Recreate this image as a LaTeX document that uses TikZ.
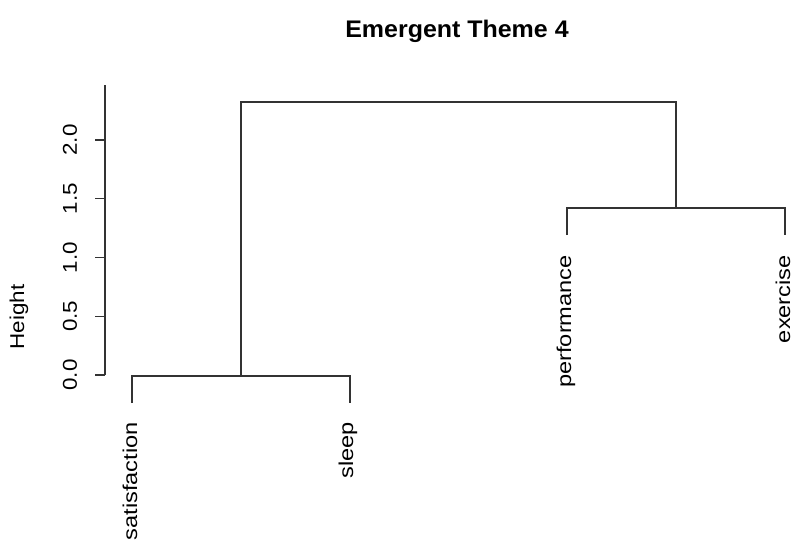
\documentclass[tikz,border=0pt]{standalone}
\usepackage{fontspec}
\setmainfont{Liberation Sans}
\newfontfamily\labelfont[FakeStretch=1.12]{Liberation Sans}
\newfontfamily\leaffont[FakeStretch=1.18]{Liberation Sans}
\newfontfamily\titlefont[FakeStretch=1.04]{Liberation Sans}
\begin{document}
\begin{tikzpicture}[x=1pt,y=-1pt,
  branch/.style={line width=1.2pt,draw=black!80},
  axisline/.style={line width=1.1pt,draw=black!80},
  leaflabel/.style={rotate=90,anchor=east,inner sep=0pt,font=\leaffont\fontsize{20}{24}\selectfont},
  ticklabel/.style={rotate=90,anchor=center,inner sep=0pt,font=\labelfont\fontsize{20}{24}\selectfont},
  titletext/.style={anchor=base,inner sep=0pt,font=\titlefont\bfseries\fontsize{24}{28}\selectfont}]
\useasboundingbox (0,0) rectangle (795,542);

% title
\node[titletext] (title) at (457,37) {Emergent Theme 4};

% height axis
\coordinate (axtop) at (105,85);
\coordinate (axbot) at (105,375);
\draw[axisline] (axtop) -- (axbot);
\foreach \i/\v/\y in {0/0.0/375,1/0.5/316.25,2/1.0/257.5,3/1.5/198.75,4/2.0/140}{
  \coordinate (tk\i) at (105,\y);
  \coordinate (tke\i) at (95,\y);
  \draw[axisline] (tk\i) -- (tke\i);
  \node[ticklabel] (tl\i) at (70,\y) {\v};
}
\node[ticklabel] (ylab) at (19,317) {Height};

% leaf ends
\coordinate (satis) at (132,403);
\coordinate (sleep) at (350,403);
\coordinate (perf) at (567,235);
\coordinate (exer) at (785,235);

% merge points
\coordinate (mleft) at (241,376);
\coordinate (mright) at (676,208);
\coordinate (mtop) at (458,102);

% branches
\draw[branch] (satis) |- (mleft) -| (sleep);
\draw[branch] (perf) |- (mright) -| (exer);
\draw[branch] (mleft) |- (mtop) -| (mright);

% leaf labels
\node[leaflabel] (lsatis) at (130,422) {satisfaction};
\node[leaflabel] (lsleep) at (348,422) {sleep};
\node[leaflabel] (lperf) at (566,255) {performance};
\node[leaflabel] (lexer) at (783,255) {exercise};
\end{tikzpicture}
\end{document}
